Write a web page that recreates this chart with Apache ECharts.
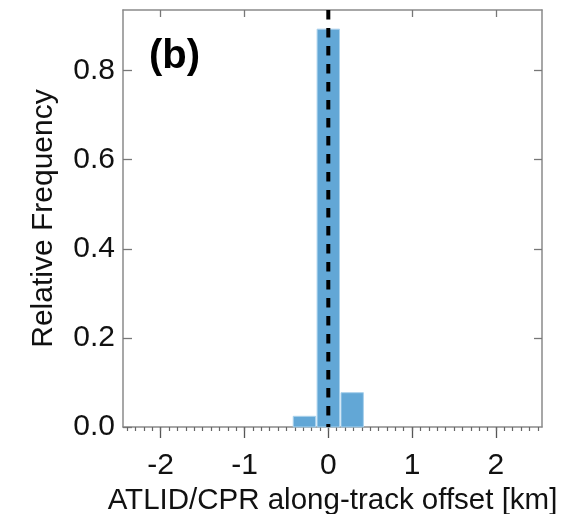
<!DOCTYPE html>
<html>
<head>
<meta charset="utf-8">
<script src="https://cdn.jsdelivr.net/npm/echarts@6/dist/echarts.min.js"></script>
<style>
  html, body { margin: 0; padding: 0; background: #fff; }
  #chart { width: 570px; height: 514px; }
</style>
</head>
<body>
<div id="chart"></div>
<script>
// Histogram of along-track offset between ATLID and CPR footprints
const binCenters = [-0.285, 0.0, 0.285];      // km
const binWidth = 0.285;                        // km
const relFrequency = [0.024, 0.893, 0.077];

const xTickLabels = [-2, -1, 0, 1, 2];
const yTickLabels = [0.0, 0.2, 0.4, 0.6, 0.8];
const zeroOffset = 0;

const xMin = -2.45, xMax = 2.55;
const yMin = 0, yMax = 0.936;

// minor ticks every 0.1 km along the bottom axis
const minorTicks = [];
for (let i = -24; i <= 25; i++) minorTicks.push(+(i / 10).toFixed(1));

const FONT = "'Liberation Sans', Arial, Helvetica, sans-serif";
const AXIS_GRAY = '#8a8a8a';
const plotRect = { left: 123, right: 28, top: 10, bottom: 87, containLabel: false, outerBoundsMode: 'none' };
const frameLine = { show: true, onZero: false, lineStyle: { color: AXIS_GRAY, width: 1.5 } };

const chart = echarts.init(document.getElementById('chart'), null, { renderer: 'canvas' });

const histData = binCenters.map((c, i) => [c, relFrequency[i]]);

chart.setOption({
  animation: false,
  backgroundColor: '#ffffff',
  // second grid shares the same rectangle and only carries the minor ticks
  grid: [Object.assign({}, plotRect), Object.assign({}, plotRect)],
  graphic: [{
    type: 'text',
    left: 149,
    top: 37,
    style: { text: '(b)', font: 'bold 40px ' + FONT, fill: '#000' },
    z: 10
  }],
  xAxis: [
    {
      gridIndex: 0, type: 'value', position: 'bottom', min: xMin, max: xMax,
      axisLine: frameLine,
      axisTick: { show: true, inside: false, length: 11, customValues: xTickLabels,
                  lineStyle: { color: '#555', width: 1.3 } },
      axisLabel: { show: true, customValues: xTickLabels, margin: 24,
                   fontFamily: FONT, fontSize: 30, color: '#111' },
      splitLine: { show: false },
      name: 'ATLID/CPR along-track offset [km]',
      nameLocation: 'middle', nameGap: 50,
      nameTextStyle: { fontFamily: FONT, fontSize: 29.5, color: '#111' }
    },
    {
      gridIndex: 0, type: 'value', position: 'top', min: xMin, max: xMax,
      axisLine: frameLine,
      axisTick: { show: true, inside: true, length: 7, customValues: xTickLabels,
                  lineStyle: { color: '#777', width: 1.3 } },
      axisLabel: { show: false },
      splitLine: { show: false }
    },
    {
      gridIndex: 1, type: 'value', position: 'bottom', min: xMin, max: xMax,
      axisLine: { show: false, onZero: false },
      axisTick: { show: true, inside: false, length: 4, customValues: minorTicks,
                  lineStyle: { color: '#666', width: 1.2 } },
      axisLabel: { show: false },
      splitLine: { show: false }
    }
  ],
  yAxis: [
    {
      gridIndex: 0, type: 'value', position: 'left', min: yMin, max: yMax,
      axisLine: frameLine,
      axisTick: { show: true, inside: true, length: 9, customValues: yTickLabels,
                  lineStyle: { color: '#777', width: 1.3 } },
      axisLabel: { show: true, margin: 8, customValues: yTickLabels,
                   formatter: v => v.toFixed(1),
                   fontFamily: FONT, fontSize: 30, color: '#111' },
      splitLine: { show: false },
      name: 'Relative Frequency',
      nameLocation: 'middle', nameGap: 64, nameRotate: 90,
      nameTextStyle: { fontFamily: FONT, fontSize: 30, color: '#111' }
    },
    {
      gridIndex: 0, type: 'value', position: 'right', min: yMin, max: yMax,
      axisLine: frameLine,
      axisTick: { show: true, inside: true, length: 8, customValues: yTickLabels.slice(1),
                  lineStyle: { color: '#777', width: 1.3 } },
      axisLabel: { show: false },
      splitLine: { show: false }
    },
    {
      gridIndex: 1, type: 'value', min: yMin, max: yMax, show: false
    }
  ],
  series: [
    {
      type: 'custom',
      xAxisIndex: 0, yAxisIndex: 0,
      data: histData,
      encode: { x: 0, y: 1 },
      renderItem: function (params, api) {
        const c = api.value(0), h = api.value(1);
        const p0 = api.coord([c - binWidth / 2, h]);
        const p1 = api.coord([c + binWidth / 2, 0]);
        return {
          type: 'rect',
          shape: { x: p0[0] + 0.75, y: p0[1], width: p1[0] - p0[0] - 1.5, height: p1[1] - p0[1] },
          style: { fill: '#62a7d6', stroke: '#a9d1ec', lineWidth: 1 }
        };
      },
      z: 2
    },
    {
      type: 'line',
      xAxisIndex: 0, yAxisIndex: 0,
      data: [[zeroOffset, yMax], [zeroOffset, yMin]],
      symbol: 'none',
      clip: true,
      lineStyle: { color: '#000', width: 4, type: [9.5, 8.5], cap: 'butt', dashOffset: 0 },
      z: 5,
      silent: true
    }
  ]
});
</script>
</body>
</html>
